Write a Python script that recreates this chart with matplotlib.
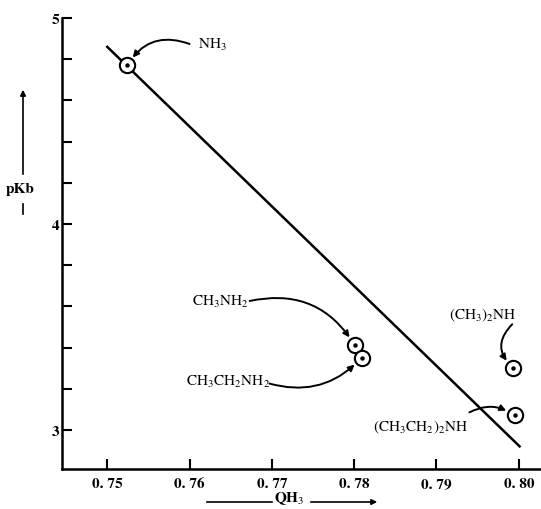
import matplotlib.pyplot as plt
import numpy as np

plt.rcParams['font.family'] = ['STIXGeneral', 'DejaVu Serif']
plt.rcParams['mathtext.fontset'] = 'stix'

# compounds and their (QH3, pKb) values
names = ['NH$_3$', 'CH$_3$NH$_2$', 'CH$_3$CH$_2$NH$_2$', '(CH$_3$)$_2$NH', '(CH$_3$CH$_2$)$_2$NH']
qh3 = [0.7524, 0.7801, 0.7809, 0.7993, 0.7995]
pkb = [4.77, 3.41, 3.35, 3.30, 3.07]

# end points of the drawn straight line
line_x = [0.7500, 0.8001]
line_y = [4.86, 2.92]

xticks = [0.75, 0.76, 0.77, 0.78, 0.79, 0.80]
xtick_labels = ['0. 75', '0. 76', '0. 77', '0. 78', '0. 79', '0. 80']
yticks = [3, 4, 5]

fig = plt.figure(figsize=(5.41, 5.10), dpi=100)
ax = fig.add_axes([0.1146, 0.0784, 0.8854, 0.8843])

ax.plot(line_x, line_y, color='black', lw=1.8, zorder=2)
ax.plot(qh3, pkb, 'o', ms=11, mfc='white', mec='black', mew=1.5, zorder=3)
ax.plot(qh3, pkb, 'o', ms=2.2, color='black', zorder=4)

ax.set_xlim(0.7445, 0.8027)
ax.set_ylim(2.81, 5.0)

ax.spines['top'].set_visible(False)
ax.spines['right'].set_visible(False)
ax.spines['left'].set_linewidth(1.8)
ax.spines['bottom'].set_linewidth(1.8)

ax.set_xticks(xticks)
ax.set_xticklabels(xtick_labels, fontweight='bold', fontsize=11)
ax.set_yticks(yticks)
ax.set_yticklabels([str(v) for v in yticks], fontweight='bold', fontsize=11)
ax.set_yticks(np.arange(3.2, 5.0, 0.2), minor=True)
ax.tick_params(axis='both', which='both', direction='in', length=7, width=1.5)
ax.tick_params(axis='y', which='major', pad=2)
ax.tick_params(axis='x', which='major', pad=6)

# labels with curved arrows pointing to each point
label_pos = [(0.7610, 4.874), (0.7637, 3.626), (0.7647, 3.238), (0.7956, 3.563), (0.7881, 3.019)]
label_ha = ['left', 'center', 'center', 'center', 'center']
arrow_from = [(0.7600, 4.874), (0.7673, 3.626), (0.7697, 3.225), (0.7992, 3.513), (0.7940, 3.085)]
arrow_rad = [0.4, -0.35, 0.3, 0.5, -0.3]

for i in range(len(names)):
    tx, ty = label_pos[i]
    ax.text(tx, ty, names[i], fontsize=11, ha=label_ha[i], va='center')
    ax.annotate('', xy=(qh3[i], pkb[i]), xytext=arrow_from[i],
                arrowprops=dict(arrowstyle='-|>', color='black', lw=1.4,
                                mutation_scale=9, shrinkA=0, shrinkB=7,
                                connectionstyle=f'arc3,rad={arrow_rad[i]}'))

# axis titles with arrows, as in the original drawing
fig.text(20 / 541, 1 - 190 / 510, 'pKb', fontsize=11, fontweight='bold', ha='center', va='center')
fig.add_artist(plt.Line2D([23 / 541, 23 / 541], [1 - 205 / 510, 1 - 215 / 510], color='black', lw=1.2))
ax.annotate('', xy=(23 / 541, 1 - 88 / 510), xytext=(23 / 541, 1 - 178 / 510),
            xycoords='figure fraction', textcoords='figure fraction',
            arrowprops=dict(arrowstyle='-|>', color='black', lw=1.2, mutation_scale=8))

fig.text(289 / 541, 1 - 499 / 510, 'QH$_3$', fontsize=11, fontweight='bold', ha='center', va='center')
fig.add_artist(plt.Line2D([207 / 541, 272 / 541], [1 - 503 / 510, 1 - 503 / 510], color='black', lw=1.2))
ax.annotate('', xy=(380 / 541, 1 - 503 / 510), xytext=(308 / 541, 1 - 503 / 510),
            xycoords='figure fraction', textcoords='figure fraction',
            arrowprops=dict(arrowstyle='-|>', color='black', lw=1.2, mutation_scale=8))

fig.savefig('out.png', dpi=100)
